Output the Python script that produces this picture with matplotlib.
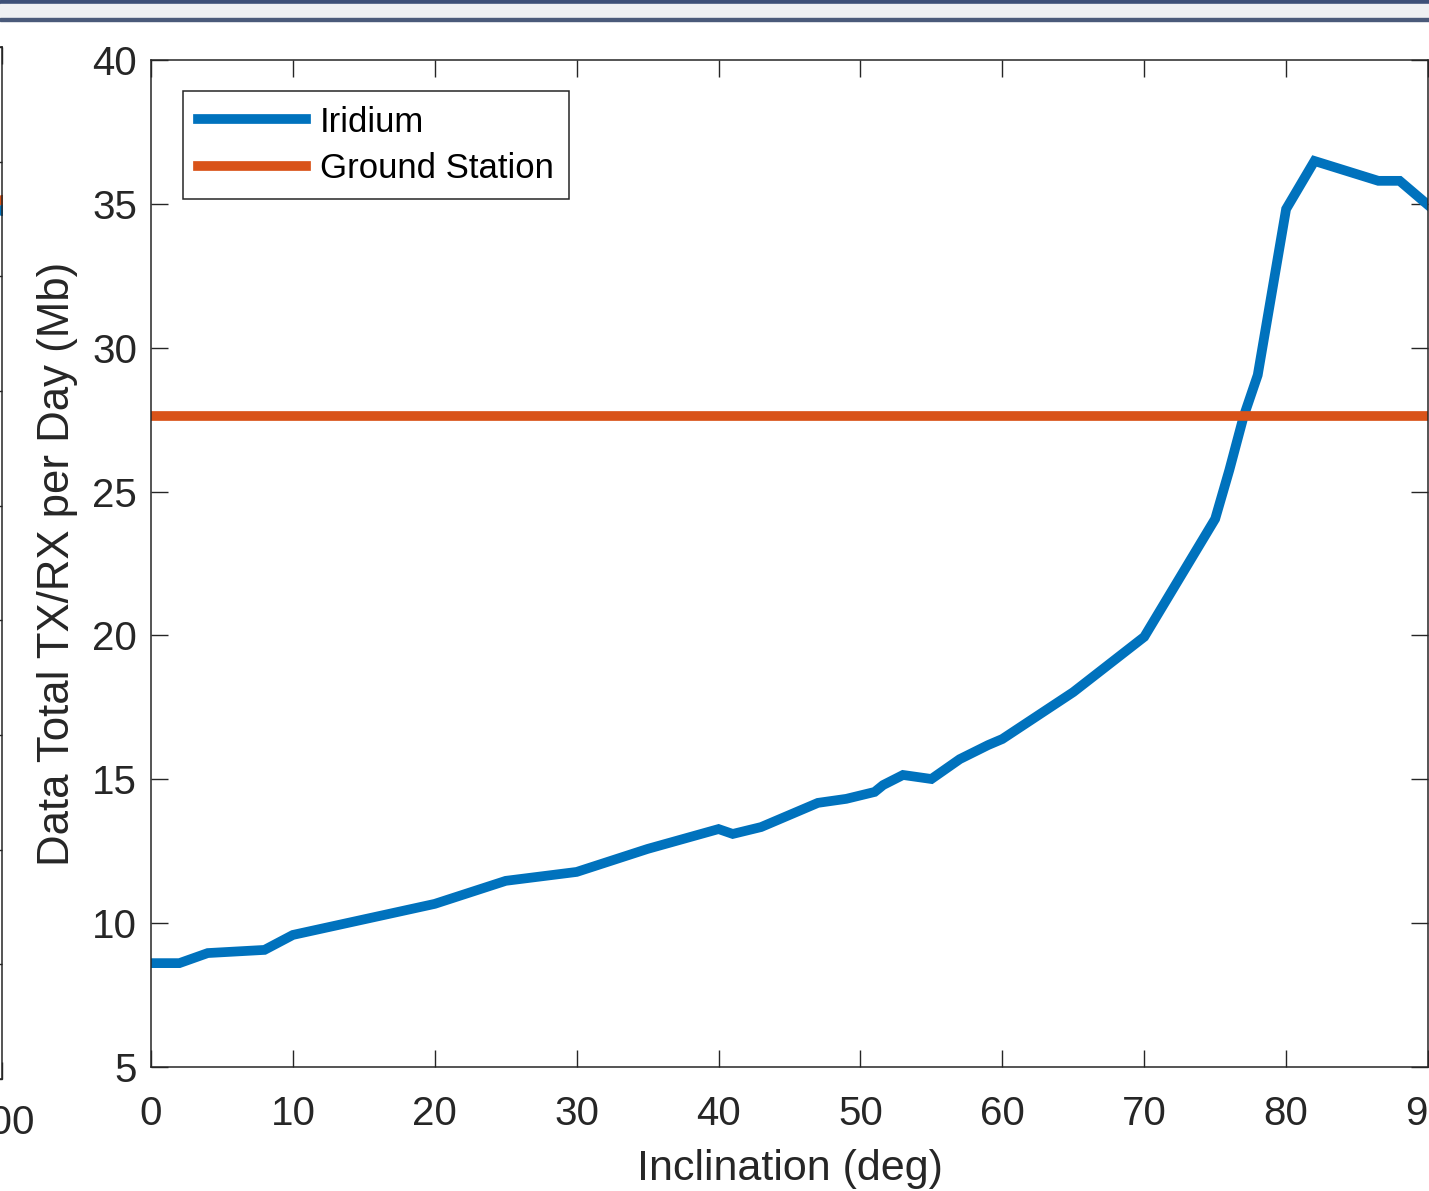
import numpy as np
import matplotlib
matplotlib.use("Agg")
import matplotlib.pyplot as plt
from matplotlib.patches import Rectangle

# data
incl_deg = [0, 2, 4, 8, 10, 20, 25, 30, 35, 40, 41, 43, 47, 49, 51, 51.6, 53, 55,
            57, 59, 60, 65, 70, 75, 76, 77, 78, 80, 82, 86.5, 88, 90]
iridium_mb = [8.61, 8.61, 8.96, 9.07, 9.59, 10.67, 11.47, 11.78, 12.58, 13.27, 13.1,
              13.34, 14.18, 14.32, 14.56, 14.8, 15.15, 15.01, 15.7, 16.19, 16.4,
              18.03, 19.95, 24.05, 25.75, 27.6, 29.05, 34.82, 36.49, 35.8, 35.8, 34.96]
ground_station_mb = 27.62

x_ticks = [0, 10, 20, 30, 40, 50, 60, 70, 80, 90]
y_ticks = [5, 10, 15, 20, 25, 30, 35, 40]

# neighbouring (cut off) axes on the left
left_yticks = list(range(0, 10))
left_markers = {"#D95319": 7.67, "#0072BD": 7.58}

blue = "#0072BD"
orange = "#D95319"
txt = "#262626"

plt.rcParams["font.family"] = ["Liberation Sans", "DejaVu Sans"]

W, H = 1429, 1191
fig = plt.figure(figsize=(W / 100, H / 100), dpi=100)

# window frame strip at the top
fig.patches.append(Rectangle((0, 1 - 4 / H), 1, 4 / H, transform=fig.transFigure,
                             color="#3d5078", zorder=0))
fig.patches.append(Rectangle((0, 1 - 18 / H), 1, 14 / H, transform=fig.transFigure,
                             color="#eef0f3", zorder=0))
fig.patches.append(Rectangle((0, 1 - 21 / H), 1, 3 / H, transform=fig.transFigure,
                             color="#4a5a7a", zorder=0))

# partial axes on the left edge
axl = fig.add_axes([2 / W - 0.5, 112 / H, 0.5, 1032 / H])
axl.set_xlim(0, 100)
axl.set_ylim(0, 9)
axl.set_xticks([100])
axl.set_xticklabels(["100"])
axl.set_yticks(left_yticks)
axl.set_yticklabels([])
for c, v in left_markers.items():
    axl.plot([100], [v], marker="o", ms=7, color=c, clip_on=True)
axl.tick_params(direction="in", length=12, width=1, colors=txt, labelsize=29,
                right=True, top=True, pad=18)
for s in axl.spines.values():
    s.set_color(txt)
    s.set_linewidth(1.1)

# main axes
ax = fig.add_axes([151 / W, 124 / H, 1277 / W, 1007 / H])
ax.plot(incl_deg, iridium_mb, color=blue, lw=7, label="Iridium", solid_joinstyle="miter")
ax.axhline(ground_station_mb, color=orange, lw=7, label="Ground Station")

ax.set_xlim(0, 90)
ax.set_ylim(5, 40)
ax.set_xticks(x_ticks)
ax.set_yticks(y_ticks)
ax.tick_params(axis="both", direction="in", length=12, width=1, colors=txt,
               labelsize=29, right=True, top=True)
ax.tick_params(axis="x", pad=20)
ax.tick_params(axis="y", pad=10)
for s in ax.spines.values():
    s.set_color(txt)
    s.set_linewidth(1.1)

ax.set_xlabel("Inclination (deg)", fontsize=31, color=txt, labelpad=12)
ax.set_ylabel("Data Total TX/RX per Day (Mb)", fontsize=31.5, color=txt, labelpad=10)

leg = ax.legend(loc="upper left", fontsize=25, handlelength=3.13, handletextpad=0.4,
                borderpad=0.42, labelspacing=0.38, fancybox=False, framealpha=1,
                borderaxespad=0.0, bbox_to_anchor=(32 / 1277, 1 - 31 / 1007))
leg.get_frame().set_edgecolor(txt)
leg.get_frame().set_linewidth(1.1)

fig.savefig("out.png", dpi=100)
